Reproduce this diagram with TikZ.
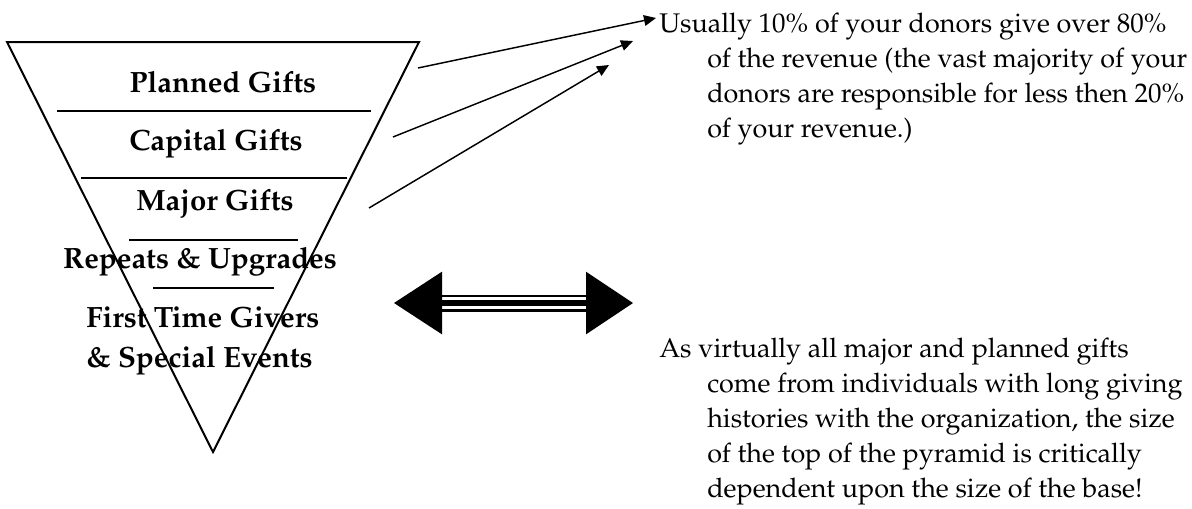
\documentclass[tikz,border=0pt]{standalone}
\usepackage[T1]{fontenc}
\usepackage{mathpazo}
\usetikzlibrary{arrows.meta}
\begin{document}
\begin{tikzpicture}[x=0.75pt,y=-0.75pt,
  lab/.style={font=\fontsize{22}{27}\selectfont\bfseries, inner sep=0pt, anchor=base},
  txt/.style={font=\fontsize{20.2}{26.1}\selectfont, inner sep=0pt, align=left, anchor=base west},
  edge/.style={line width=1.5pt, line join=miter},
  sepline/.style={line width=1.2pt},
  ptr/.style={line width=1.1pt, -{Triangle[length=9pt,width=8pt]}},
]
\useasboundingbox (0,0) rectangle (1192,508);
% pyramid
\coordinate (tl) at (7,42);
\coordinate (tr) at (419,42);
\coordinate (bot) at (213,452);
\draw[edge] (tl) -- (tr) -- (bot) -- cycle;
\draw[sepline] (57,111) -- (371,111);
\draw[sepline] (81,178) -- (347,178);
\draw[sepline] (129,240) -- (298,240);
\draw[sepline] (153,288) -- (274,288);
% labels
\node[lab] (planned) at (223,92) {Planned Gifts};
\node[lab] (capital) at (216,150) {Capital Gifts};
\node[lab] (major) at (215,210) {Major Gifts};
\node[lab] (repeats) at (200,268) {Repeats \& Upgrades};
\node[lab, anchor=base west, align=left, font=\fontsize{22}{30}\selectfont\bfseries] (first) at (86,367) {First Time Givers\\\& Special Events};
% right texts (base anchor = last line)
\node[txt] (usually) at (659,137) {Usually 10\% of your donors give over 80\%\\
\hspace*{36pt}of the revenue (the vast majority of your\\
\hspace*{36pt}donors are responsible for less then 20\%\\
\hspace*{36pt}of your revenue.)};
\node[txt] (virtually) at (659,497) {As virtually all major and planned gifts\\
\hspace*{36pt}come from individuals with long giving\\
\hspace*{36pt}histories with the organization, the size\\
\hspace*{36pt}of the top of the pyramid is critically\\
\hspace*{36pt}dependent upon the size of the base!};
% pointer arrows
\coordinate (a1s) at (418,68);  \coordinate (a1e) at (656,18);
\coordinate (a2s) at (393,137); \coordinate (a2e) at (633,41);
\coordinate (a3s) at (369,208); \coordinate (a3e) at (609,65);
\draw[ptr] (a1s) -- (a1e);
\draw[ptr] (a2s) -- (a2e);
\draw[ptr] (a3s) -- (a3e);
% double arrow
\coordinate (dl) at (394,303);
\coordinate (dr) at (633,303);
\coordinate (dlb) at (442,303);
\coordinate (drb) at (586,303);
\draw[line width=12.75pt] (dlb) -- (drb);
\draw[line width=9.5pt, white] (dlb) -- (drb);
\draw[line width=4.5pt] (dlb) -- (drb);
\fill (dl) -- ([yshift=-23.5]dlb) -- ([yshift=23.5]dlb) -- cycle;
\fill (dr) -- ([yshift=-23.5]drb) -- ([yshift=23.5]drb) -- cycle;
\end{tikzpicture}
\end{document}
